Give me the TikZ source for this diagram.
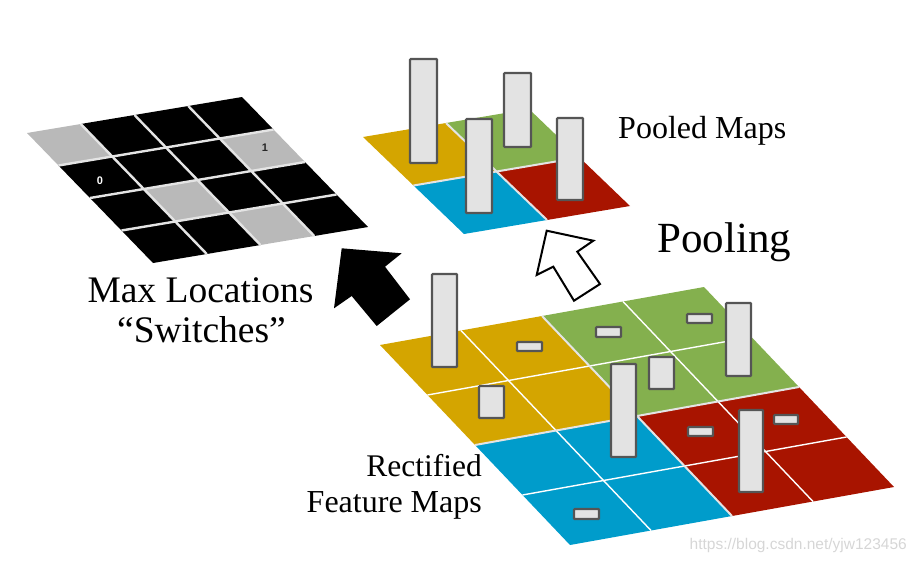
\documentclass[tikz,border=0pt]{standalone}
\usepackage{fontspec}
\setmainfont{Liberation Serif}
\newfontfamily\wmfont{Liberation Sans}
\definecolor{cyel}{HTML}{D4A500}
\definecolor{cgrn}{HTML}{84B04E}
\definecolor{cblu}{HTML}{009CCB}
\definecolor{cred}{HTML}{A81400}
\definecolor{cgry}{HTML}{B9B9B9}
\definecolor{barfill}{HTML}{E3E3E3}
\definecolor{barline}{HTML}{555555}
\definecolor{gridline}{HTML}{E4E4E4}
\tikzset{
  bar/.style={fill=barfill, draw=barline, line width=2.2pt, rounded corners=0.8pt},
  cellline/.style={draw=white, line width=1.4pt},
  blockline/.style={draw=gridline, line width=2pt},
  swline/.style={draw=gridline, line width=2.4pt},
  lbl/.style={inner sep=0pt, text=black},
}
\begin{document}
\begin{tikzpicture}[x=1pt,y=-1pt]
\useasboundingbox (0,0) rectangle (917,562);

% ---------- switches grid ----------
\begin{scope}[shift={(27,133)},x={(53.75pt,9pt)},y={(31.5pt,-32.5pt)}]
  \foreach \r/\c/\col in {0/0/cgry,0/1/black,0/2/black,0/3/black,
                          1/0/black,1/1/black,1/2/black,1/3/cgry,
                          2/0/black,2/1/cgry,2/2/black,2/3/black,
                          3/0/black,3/1/black,3/2/cgry,3/3/black}
    \fill[\col] (\c,\r) -- (\c+1,\r) -- (\c+1,\r+1) -- (\c,\r+1) -- cycle;
  \foreach \i in {1,2,3} {
    \draw[swline] (\i,0) -- (\i,4);
    \draw[swline] (0,\i) -- (4,\i);
  }
\end{scope}
\node[font=\wmfont\bfseries\fontsize{11}{12}\selectfont, text=white, inner sep=0pt] (zero) at (100,181) {0};
\node[font=\wmfont\bfseries\fontsize{11}{12}\selectfont, text=black!85, inner sep=0pt] (one) at (265,148) {1};

% ---------- pooled maps ----------
\begin{scope}[shift={(363,137)},x={(83pt,14pt)},y={(50.5pt,-48.5pt)}]
  \foreach \r/\c/\col in {0/0/cyel,0/1/cgrn,1/0/cblu,1/1/cred}
    \fill[\col] (\c,\r) -- (\c+1,\r) -- (\c+1,\r+1) -- (\c,\r+1) -- cycle;
  \draw[blockline] (1,0) -- (1,2);
  \draw[blockline] (0,1) -- (2,1);
\end{scope}
\draw[bar] (410,59) rectangle (437,163);
\draw[bar] (504,73) rectangle (531,147);
\draw[bar] (466,119) rectangle (492,213);
\draw[bar] (557,118) rectangle (583,200);

% ---------- rectified feature maps ----------
\begin{scope}[shift={(380,345)},x={(81pt,14.5pt)},y={(47.5pt,-50pt)}]
  \foreach \r/\c/\col in {0/0/cyel,0/1/cyel,1/0/cyel,1/1/cyel,
                          0/2/cgrn,0/3/cgrn,1/2/cgrn,1/3/cgrn,
                          2/0/cblu,2/1/cblu,3/0/cblu,3/1/cblu,
                          2/2/cred,2/3/cred,3/2/cred,3/3/cred}
    \fill[\col] (\c,\r) -- (\c+1,\r) -- (\c+1,\r+1) -- (\c,\r+1) -- cycle;
  \foreach \i in {1,3} {
    \draw[cellline] (\i,0) -- (\i,4);
    \draw[cellline] (0,\i) -- (4,\i);
  }
  \draw[blockline] (2,0) -- (2,4);
  \draw[blockline] (0,2) -- (4,2);
\end{scope}
\draw[bar] (432,274) rectangle (457,367);
\draw[bar] (517,342) rectangle (542,351);
\draw[bar] (596,327) rectangle (621,337);
\draw[bar] (687,314) rectangle (712,323);
\draw[bar] (726,303) rectangle (751,376);
\draw[bar] (649,357) rectangle (674,389);
\draw[bar] (479,386) rectangle (504,418);
\draw[bar] (611,364) rectangle (636,457);
\draw[bar] (688,427) rectangle (713,436);
\draw[bar] (774,415) rectangle (798,424);
\draw[bar] (739,410) rectangle (763,492);
\draw[bar] (574,509) rectangle (599,519);

% ---------- arrows ----------
\fill[black] (341.7,248.3) -- (401.7,253.3) -- (385,266.7) -- (410,299.3)
  -- (376.7,326) -- (351.7,296) -- (334,308.3) -- cycle;
\draw[fill=white, line width=2pt, line join=miter] (546.7,230.7) -- (593.3,240.7) -- (577.3,251.7)
  -- (600,284) -- (574,300.7) -- (553.3,266.7) -- (536.7,275) -- cycle;

% ---------- labels ----------
\node[lbl, anchor=base west, font=\fontsize{32}{38}\selectfont] (pooledlbl) at (618,138) {Pooled Maps};
\node[lbl, anchor=base west, font=\fontsize{43}{50}\selectfont] (poolinglbl) at (657,252) {Pooling};
\node[lbl, anchor=base, font=\fontsize{37.5}{44}\selectfont] (maxlbl) at (200.5,302) {Max Locations};
\node[lbl, anchor=base, font=\fontsize{37.5}{44}\selectfont] (switchlbl) at (201.5,342) {“Switches”};
\node[lbl, anchor=base east, font=\fontsize{31.5}{38}\selectfont] (rectlbl) at (482,476) {Rectified};
\node[lbl, anchor=base east, font=\fontsize{32}{38}\selectfont] (featlbl) at (482,512) {Feature Maps};
\node[inner sep=0pt, anchor=base east, font=\wmfont\fontsize{15.5}{18}\selectfont, text=black!16] (wm) at (907,549) {https://blog.csdn.net/yjw123456};
\end{tikzpicture}
\end{document}
